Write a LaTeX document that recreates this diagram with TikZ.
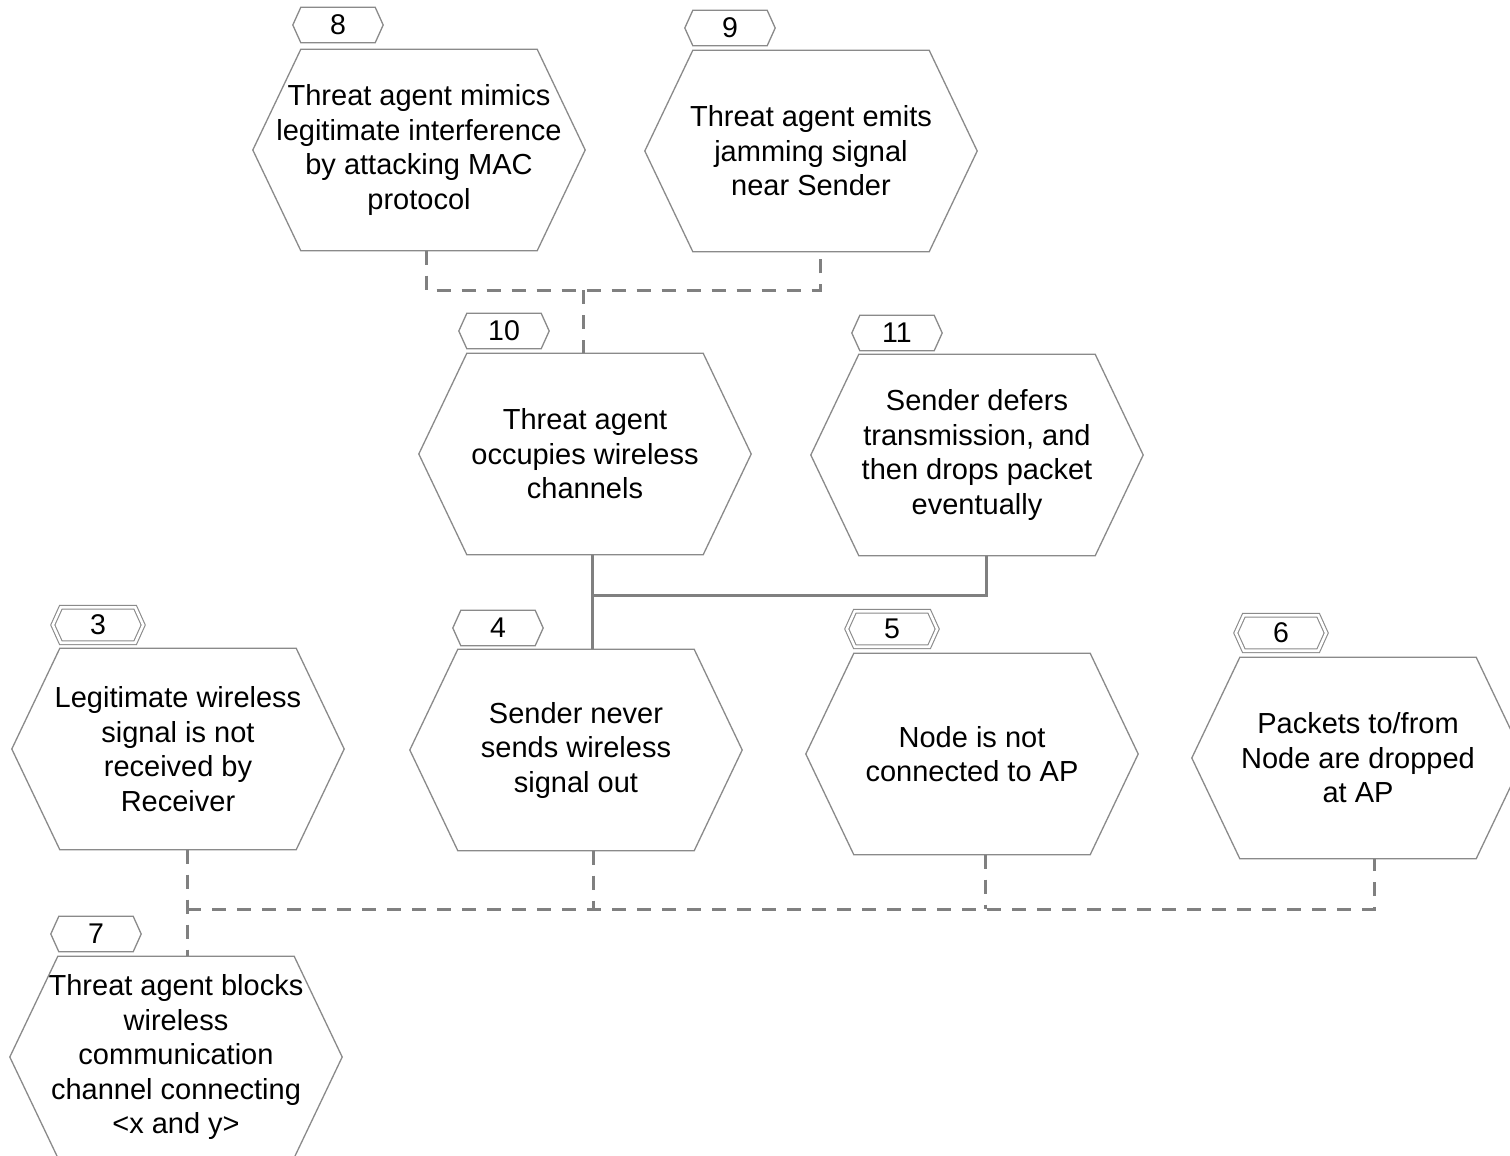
\documentclass[tikz,border=0pt]{standalone}
\usepackage{fontspec}
\setmainfont{Liberation Sans}
\definecolor{hexgray}{HTML}{8A8A8A}
\definecolor{congray}{HTML}{808080}
\tikzset{
  hexbig/.style={minimum width=332pt, minimum height=201pt, inner sep=0pt, align=center, font=\fontsize{29}{34.5}\selectfont},
  hexsmall/.style={minimum width=90pt, minimum height=35pt, inner sep=0pt, font=\fontsize{28.5}{32}\selectfont},
  hexline/.style={draw=hexgray, line width=1.3pt},
  dbl/.style={line width=1.1pt, double=white, double distance=2.6pt},
  dashc/.style={draw=congray, line width=3pt, dash pattern=on 14pt off 11pt},
  solidc/.style={draw=congray, line width=3pt},
}
\newcommand\hexdraw[3][]{\draw[hexline,#1] (#2.west) -- ([xshift=#3]#2.north west) -- ([xshift=-#3]#2.north east) -- (#2.east) -- ([xshift=-#3]#2.south east) -- ([xshift=#3]#2.south west) -- cycle;}
\begin{document}
\begin{tikzpicture}[x=1pt,y=-1pt]
\useasboundingbox[fill=white] (0,0) rectangle (1510,1156);
\clip (0,0) rectangle (1510,1156);
% big hexagons
\node[hexbig] (h8) at (419,150) {Threat agent mimics\\legitimate interference\\by attacking MAC\\protocol};
\node[hexbig] (h9) at (811,151) {Threat agent emits\\jamming signal\\near Sender};
\node[hexbig] (h10) at (585,454) {Threat agent\\occupies wireless\\channels};
\node[hexbig] (h11) at (977,455) {Sender defers\\transmission, and\\then drops packet\\eventually};
\node[hexbig] (h3) at (178,749) {Legitimate wireless\\signal is not\\received by\\Receiver};
\node[hexbig] (h4) at (576,750) {Sender never\\sends wireless\\signal out};
\node[hexbig] (h5) at (972,754) {Node is not\\connected to AP};
\node[hexbig] (h6) at (1358,758) {Packets to/from\\Node are dropped\\at AP};
\node[hexbig] (h7) at (176,1057) {Threat agent blocks\\wireless\\communication\\channel connecting\\<x and y>};
\foreach \n in {h8,h9,h10,h11,h3,h4,h5,h6,h7}{\hexdraw{\n}{48pt}}
% labels
\node[hexsmall] (l8) at (338,25) {8};
\node[hexsmall] (l9) at (730,28) {9};
\node[hexsmall] (l10) at (504,331) {10};
\node[hexsmall] (l11) at (897,333) {11};
\node[hexsmall] (l3) at (98,625) {3};
\node[hexsmall] (l4) at (498,628) {4};
\node[hexsmall] (l5) at (892,629) {5};
\node[hexsmall] (l6) at (1281,633) {6};
\node[hexsmall] (l7) at (96,934) {7};
\foreach \n in {l8,l9,l10,l11,l4,l7}{\hexdraw{\n}{8pt}}
\foreach \n in {l3,l5,l6}{\hexdraw[dbl]{\n}{8pt}}
% connectors top
\coordinate (j1) at (583,290);
\draw[dashc] ([xshift=7pt]h8.south) |- ([xshift=9pt]h9.south |- j1) -- ([xshift=9pt]h9.south);
\draw[dashc] (j1) -- (j1 |- h10.north);
% solid connectors
\coordinate (j2) at (592,595);
\draw[solidc] (j2 |- h10.south) -- (j2 |- h4.north);
\draw[solidc] ([xshift=9pt]h11.south) |- (j2);
% bottom dashed
\coordinate (j3) at (187,909);
\draw[dashc] (j3 |- h3.south) -- (j3 |- h7.north);
\draw[dashc] (j3) -| ([xshift=16pt]h6.south);
\draw[dashc] ([xshift=17pt]h4.south) -- ([xshift=17pt]h4.south |- j3);
\draw[dashc] ([xshift=13pt]h5.south) -- ([xshift=13pt]h5.south |- j3);
\end{tikzpicture}
\end{document}
